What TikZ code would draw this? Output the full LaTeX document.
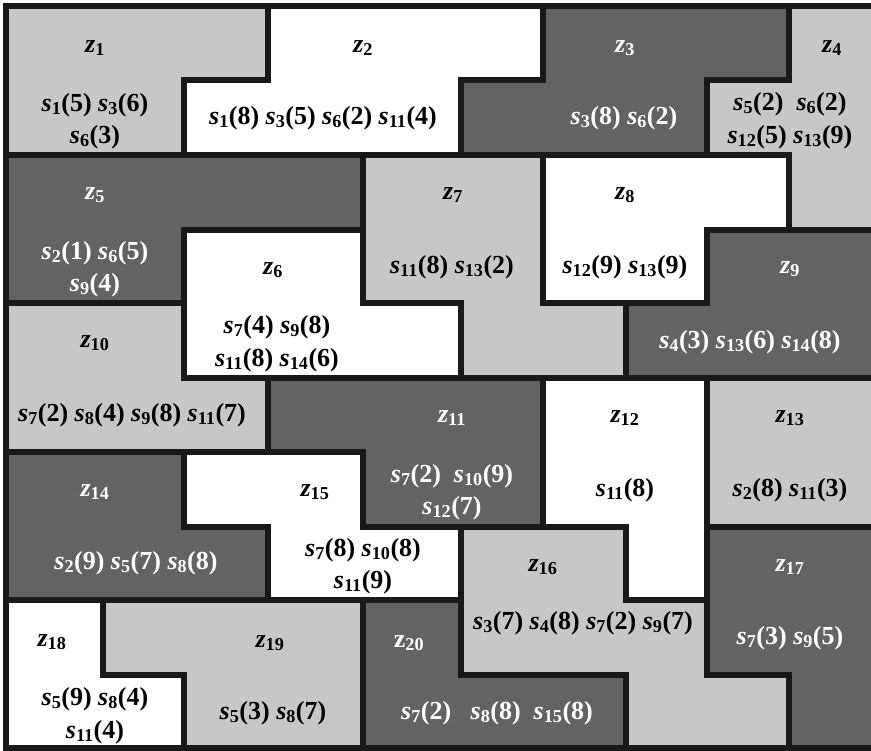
\documentclass[tikz,border=0pt]{standalone}
\usepackage{fontspec}
\setmainfont{Liberation Serif}
\newcommand{\zv}[1]{\textit{z}\textsubscript{#1}}
\newcommand{\sv}[2]{\textit{s}\textsubscript{#1}(#2)}
\definecolor{lg}{RGB}{198,199,201}
\definecolor{dg}{RGB}{99,99,101}
\tikzset{
  lab/.style={font=\fontsize{26}{30}\selectfont\bfseries, inner sep=0pt},
  wl/.style={lab, text=white},
  bd/.style={draw=black!90, line width=5.5pt, line join=miter},
}
\def\rgA{(6,6)--(268,6)--(268,80)--(184,80)--(184,155)--(6,155)--cycle}
\def\rgB{(268,6)--(543,6)--(543,80)--(461,80)--(461,155)--(184,155)--(184,80)--(268,80)--cycle}
\def\rgC{(543,6)--(789,6)--(789,80)--(707,80)--(707,155)--(461,155)--(461,80)--(543,80)--cycle}
\def\rgD{(789,6)--(875,6)--(875,230)--(789,230)--(789,155)--(707,155)--(707,80)--(789,80)--cycle}
\def\rgE{(6,155)--(363,155)--(363,230)--(184,230)--(184,303)--(6,303)--cycle}
\def\rgF{(184,230)--(363,230)--(363,303)--(461,303)--(461,378)--(184,378)--cycle}
\def\rgG{(363,155)--(543,155)--(543,303)--(626,303)--(626,378)--(461,378)--(461,303)--(363,303)--cycle}
\def\rgH{(543,155)--(789,155)--(789,230)--(707,230)--(707,303)--(543,303)--cycle}
\def\rgI{(707,230)--(875,230)--(875,378)--(626,378)--(626,303)--(707,303)--cycle}
\def\rgJ{(6,303)--(184,303)--(184,378)--(268,378)--(268,452)--(6,452)--cycle}
\def\rgK{(268,378)--(543,378)--(543,527)--(363,527)--(363,452)--(268,452)--cycle}
\def\rgL{(543,378)--(707,378)--(707,600)--(626,600)--(626,527)--(543,527)--cycle}
\def\rgM{(707,378)--(875,378)--(875,527)--(707,527)--cycle}
\def\rgN{(6,452)--(184,452)--(184,527)--(268,527)--(268,600)--(6,600)--cycle}
\def\rgO{(184,452)--(363,452)--(363,527)--(461,527)--(461,600)--(268,600)--(268,527)--(184,527)--cycle}
\def\rgP{(461,527)--(626,527)--(626,600)--(707,600)--(707,675)--(789,675)--(789,748)--(626,748)--(626,675)--(461,675)--cycle}
\def\rgQ{(707,527)--(875,527)--(875,748)--(789,748)--(789,675)--(707,675)--cycle}
\def\rgR{(6,600)--(103,600)--(103,675)--(184,675)--(184,748)--(6,748)--cycle}
\def\rgS{(103,600)--(363,600)--(363,748)--(184,748)--(184,675)--(103,675)--cycle}
\def\rgT{(363,600)--(461,600)--(461,675)--(626,675)--(626,748)--(363,748)--cycle}
\begin{document}
\begin{tikzpicture}[x=1pt,y=-1pt]
\useasboundingbox (0,0) rectangle (871,751);
\fill[white] (0,0) rectangle (871,751);
% fills
\fill[lg] \rgA; \fill[white] \rgB; \fill[dg] \rgC; \fill[lg] \rgD;
\fill[dg] \rgE; \fill[white] \rgF; \fill[lg] \rgG; \fill[white] \rgH; \fill[dg] \rgI;
\fill[lg] \rgJ; \fill[dg] \rgK; \fill[white] \rgL; \fill[lg] \rgM;
\fill[dg] \rgN; \fill[white] \rgO; \fill[lg] \rgP; \fill[dg] \rgQ;
\fill[white] \rgR; \fill[lg] \rgS; \fill[dg] \rgT;
% borders
\draw[bd] \rgA; \draw[bd] \rgB; \draw[bd] \rgC; \draw[bd] \rgD;
\draw[bd] \rgE; \draw[bd] \rgF; \draw[bd] \rgG; \draw[bd] \rgH; \draw[bd] \rgI;
\draw[bd] \rgJ; \draw[bd] \rgK; \draw[bd] \rgL; \draw[bd] \rgM;
\draw[bd] \rgN; \draw[bd] \rgO; \draw[bd] \rgP; \draw[bd] \rgQ;
\draw[bd] \rgR; \draw[bd] \rgS; \draw[bd] \rgT;
% labels
\node[lab] (z1) at (95,48) {\zv{1}};
\node[lab] (t1a) at (95,105) {\sv{1}{5} \sv{3}{6}};
\node[lab] (t1b) at (95,137) {\sv{6}{3}};
\node[lab] (z2) at (363,48) {\zv{2}};
\node[lab] (t2a) at (323,118) {\sv{1}{8} \sv{3}{5} \sv{6}{2} \sv{11}{4}};
\node[wl] (z3) at (625,48) {\zv{3}};
\node[wl] (t3a) at (624,118) {\sv{3}{8} \sv{6}{2}};
\node[lab] (z4) at (832,48) {\zv{4}};
\node[lab] (t4a) at (790,104) {\sv{5}{2}\ \ \sv{6}{2}};
\node[lab] (t4b) at (790,137) {\sv{12}{5} \sv{13}{9}};
\node[wl] (z5) at (95,195) {\zv{5}};
\node[wl] (t5a) at (95,253) {\sv{2}{1} \sv{6}{5}};
\node[wl] (t5b) at (95,285) {\sv{9}{4}};
\node[lab] (z6) at (273,270) {\zv{6}};
\node[lab] (t6a) at (277,327) {\sv{7}{4} \sv{9}{8}};
\node[lab] (t6b) at (277,360) {\sv{11}{8} \sv{14}{6}};
\node[lab] (z7) at (453,195) {\zv{7}};
\node[lab] (t7a) at (452,267) {\sv{11}{8} \sv{13}{2}};
\node[lab] (z8) at (625,195) {\zv{8}};
\node[lab] (t8a) at (625,267) {\sv{12}{9} \sv{13}{9}};
\node[wl] (z9) at (790,269) {\zv{9}};
\node[wl] (t9a) at (750,342) {\sv{4}{3} \sv{13}{6} \sv{14}{8}};
\node[lab] (z10) at (95,343) {\zv{10}};
\node[lab] (t10a) at (132,415) {\sv{7}{2} \sv{8}{4} \sv{9}{8} \sv{11}{7}};
\node[wl] (z11) at (452,418) {\zv{11}};
\node[wl] (t11a) at (452,476) {\sv{7}{2}\ \ \sv{10}{9}};
\node[wl] (t11b) at (452,508) {\sv{12}{7}};
\node[lab] (z12) at (625,418) {\zv{12}};
\node[lab] (t12a) at (625,490) {\sv{11}{8}};
\node[lab] (z13) at (790,418) {\zv{13}};
\node[lab] (t13a) at (790,490) {\sv{2}{8} \sv{11}{3}};
\node[wl] (z14) at (95,492) {\zv{14}};
\node[wl] (t14a) at (136,563) {\sv{2}{9} \sv{5}{7} \sv{8}{8}};
\node[lab] (z15) at (315,492) {\zv{15}};
\node[lab] (t15a) at (363,550) {\sv{7}{8} \sv{10}{8}};
\node[lab] (t15b) at (363,582) {\sv{11}{9}};
\node[lab] (z16) at (543,567) {\zv{16}};
\node[lab] (t16a) at (583,623) {\sv{3}{7} \sv{4}{8} \sv{7}{2} \sv{9}{7}};
\node[wl] (z17) at (790,567) {\zv{17}};
\node[wl] (t17a) at (790,638) {\sv{7}{3} \sv{9}{5}};
\node[lab] (z18) at (52,642) {\zv{18}};
\node[lab] (t18a) at (95,699) {\sv{5}{9} \sv{8}{4}};
\node[lab] (t18b) at (95,732) {\sv{11}{4}};
\node[lab] (z19) at (270,643) {\zv{19}};
\node[lab] (t19a) at (273,713) {\sv{5}{3} \sv{8}{7}};
\node[wl] (z20) at (409,643) {z\textsubscript{20}};
\node[wl] (t20a) at (497,713) {\sv{7}{2}\ \ \ \sv{8}{8}\ \ \sv{15}{8}};
\end{tikzpicture}
\end{document}
